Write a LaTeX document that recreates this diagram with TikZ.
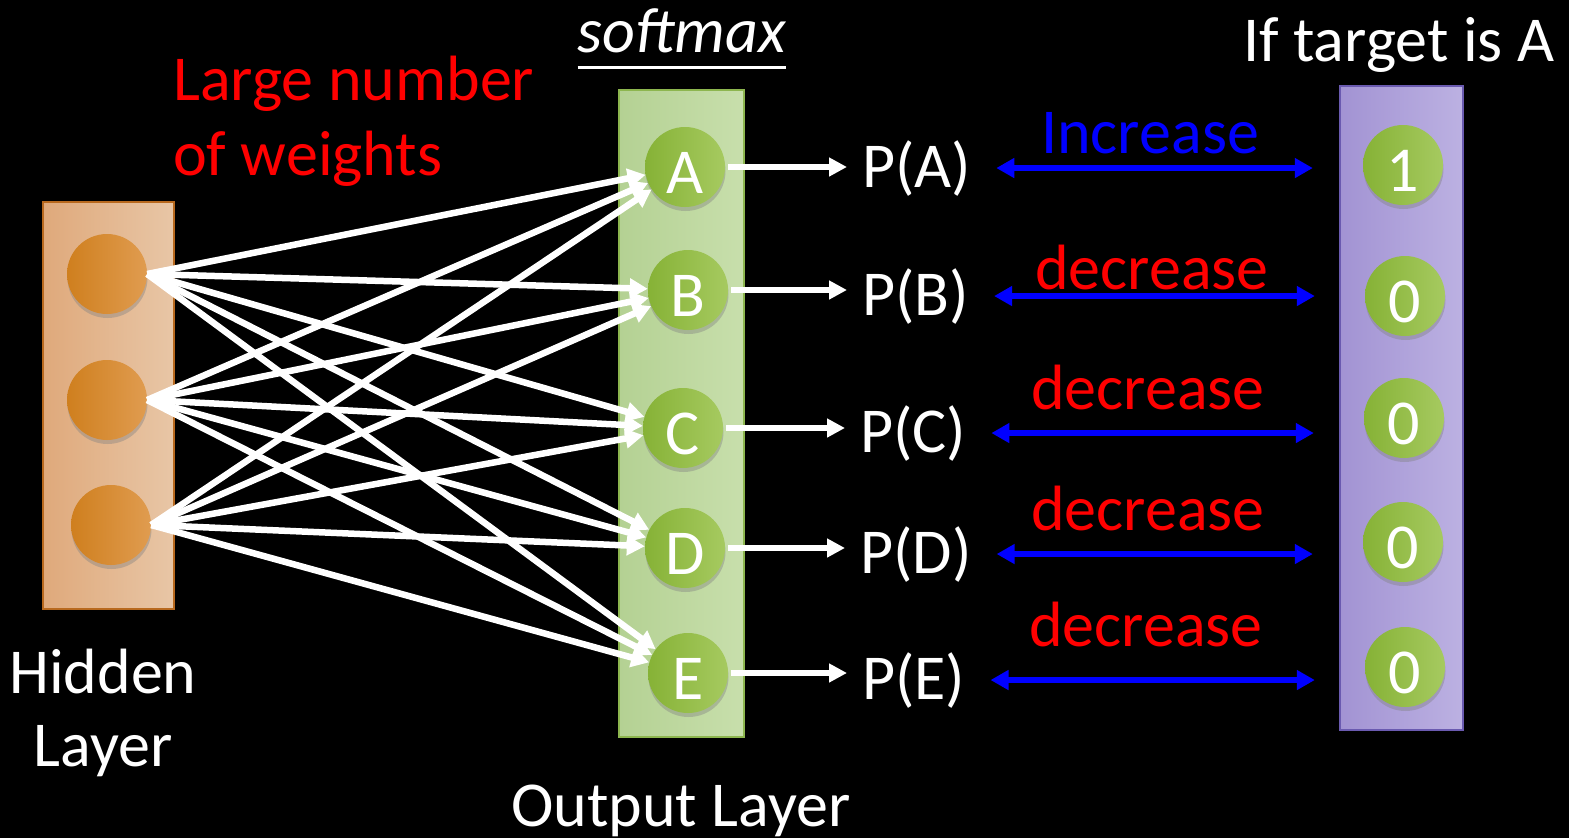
\documentclass[tikz,border=0pt]{standalone}
\usepackage{fontspec}
\setmainfont{Carlito}
\usetikzlibrary{arrows.meta,shadows}

\definecolor{hidL}{HTML}{CF7F1E}
\definecolor{hidR}{HTML}{E09C50}
\definecolor{hboxL}{HTML}{DFA97B}
\definecolor{hboxR}{HTML}{E8C6A6}
\definecolor{hboxB}{HTML}{B8691E}
\definecolor{grnL}{HTML}{86B236}
\definecolor{grnR}{HTML}{A6CA60}
\definecolor{oboxL}{HTML}{B4D193}
\definecolor{oboxR}{HTML}{C8DFAC}
\definecolor{oboxB}{HTML}{8DB64F}
\definecolor{tboxL}{HTML}{A293D3}
\definecolor{tboxR}{HTML}{BCB1E2}
\definecolor{tboxB}{HTML}{6A5AB0}

\tikzset{
  txt/.style={font=\fontsize{64}{76}\selectfont, text=white, inner sep=0pt},
  layerbox/.style={rectangle, inner sep=0pt, line width=1.3pt},
  neuron/.style={circle, minimum size=80pt, inner sep=0pt,
    drop shadow={shadow xshift=0.5pt, shadow yshift=-4pt, opacity=0.4}},
  hidn/.style={neuron, left color=hidL, right color=hidR},
  grnn/.style={neuron, left color=grnL, right color=grnR, txt,
    text height=52pt, text depth=0pt},
  wire/.style={white, line width=6.5pt, -{Triangle[length=18pt,width=19pt]}},
  outarr/.style={white, line width=5.5pt, -{Triangle[length=18pt,width=18pt]}},
  cmparr/.style={blue, line width=5.5pt,
    {Triangle[length=18pt,width=19pt]}-{Triangle[length=18pt,width=19pt]}},
}

\begin{document}
\begin{tikzpicture}[x=1pt,y=-1pt]
  % canvas
  \fill[black] (0,0) rectangle (1569,838);
  \useasboundingbox (0,0) rectangle (1569,838);

  % layer panels
  \node[layerbox, draw=hboxB, left color=hboxL, right color=hboxR,
        minimum width=131pt, minimum height=407pt] (hbox) at (108.5,405.5) {};
  \node[layerbox, draw=oboxB, left color=oboxL, right color=oboxR,
        minimum width=125pt, minimum height=647pt] (obox) at (681.5,413.5) {};
  \node[layerbox, draw=tboxB, left color=tboxL, right color=tboxR,
        minimum width=123pt, minimum height=644pt] (tbox) at (1401.5,408) {};

  % hidden neurons
  \node[hidn] (h1) at (107,274) {};
  \node[hidn] (h2) at (107,400) {};
  \node[hidn] (h3) at (111,525) {};

  % output neurons
  \node[grnn] (oA) at (685,167) {A};
  \node[grnn] (oB) at (688,290) {B};
  \node[grnn] (oC) at (683,428) {C};
  \node[grnn] (oD) at (685,548) {D};
  \node[grnn] (oE) at (688,673) {E};

  % target neurons
  \node[grnn] (tA) at (1403,165) {1};
  \node[grnn] (tB) at (1405,296) {0};
  \node[grnn] (tC) at (1404,418) {0};
  \node[grnn] (tD) at (1403,542) {0};
  \node[grnn] (tE) at (1405,667) {0};

  % fully connected weights
  \foreach \h in {h1,h2,h3}
    \foreach \o in {oA,oB,oC,oD,oE}
      \draw[wire] (\h.east) -- (\o);

  % probabilities
  \node[txt, anchor=base west] (pA) at (862,187) {P(A)};
  \node[txt, anchor=base west] (pB) at (862,315) {P(B)};
  \node[txt, anchor=base west] (pC) at (860,452) {P(C)};
  \node[txt, anchor=base west] (pD) at (860,573) {P(D)};
  \node[txt, anchor=base west] (pE) at (862,699) {P(E)};

  \foreach \o/\p in {oA/pA,oB/pB,oC/pC,oD/pD,oE/pE}
    \draw[outarr, shorten <=3pt, shorten >=15pt] (\o.east) -- (\o.east -| \p.west);

  % comparison with target
  \foreach \p/\t in {pA/tA,pB/tB,pC/tC,pD/tD,pE/tE}
    \draw[cmparr, shorten <=25pt, shorten >=50pt] (\p.east) -- (\p.east -| \t.west);

  \node[txt, text=blue, anchor=base] (lA) at (1150,153) {Increase};
  \node[txt, text=red, anchor=base] (lB) at (1152,289) {decrease};
  \node[txt, text=red, anchor=base] (lC) at (1148,409) {decrease};
  \node[txt, text=red, anchor=base] (lD) at (1148,530) {decrease};
  \node[txt, text=red, anchor=base] (lE) at (1146,646) {decrease};

  % captions
  \node[txt, text=red, anchor=base west] (w1) at (173,100) {Large number};
  \node[txt, text=red, anchor=base west] (w2) at (173,175) {of weights};
  \node[txt, anchor=base] (sm) at (682,52) {\itshape softmax};
  \draw[white, line width=3pt] ([yshift=-15pt]sm.base west) -- ([yshift=-15pt]sm.base east);
  \node[txt, anchor=base west] (tgt) at (1243,61) {If target is A};
  \node[txt, anchor=base] (hl1) at (103,693) {Hidden};
  \node[txt, anchor=base] (hl2) at (103,766) {Layer};
  \node[txt, anchor=base] (ol) at (681,826) {Output Layer};
\end{tikzpicture}
\end{document}
